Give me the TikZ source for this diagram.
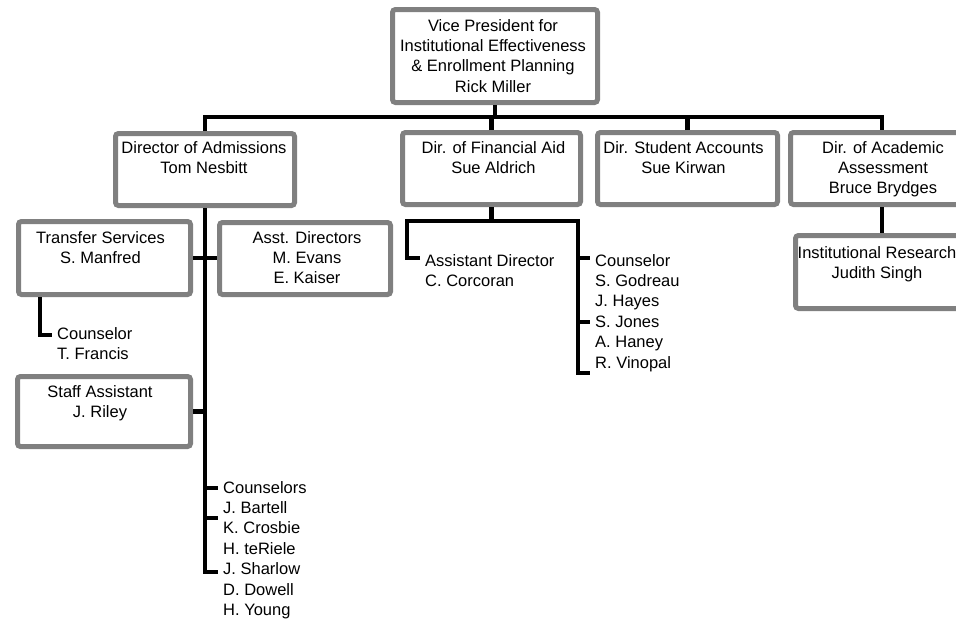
\documentclass[tikz,border=0pt]{standalone}
\usepackage{fontspec}
\setmainfont{Liberation Sans}
\definecolor{boxgray}{HTML}{808080}
\begin{document}
\begin{tikzpicture}[x=1pt,y=-1pt,
  box/.style={draw=boxgray, line width=5pt, rounded corners=3pt, fill=white, inner sep=0pt},
  txt/.style={font=\fontsize{16.5}{20.4}\selectfont, inner sep=0pt, align=center, anchor=north},
  ltxt/.style={txt, align=left, anchor=north west},
  conn/.style={line width=4.5pt, black}]
\useasboundingbox (0,0) rectangle (956,621);
\clip (0,0) rectangle (956,621);
% boxes
\node[box, minimum width=205pt, minimum height=93pt] (vp) at (495,56) {};
\node[box, minimum width=179pt, minimum height=72pt] (adm) at (205,169.5) {};
\node[box, minimum width=178pt, minimum height=72pt] (fa) at (491.5,168.5) {};
\node[box, minimum width=180pt, minimum height=72pt] (sa) at (687.5,168.5) {};
\node[box, minimum width=183pt, minimum height=72pt] (aa) at (882,168.5) {};
\node[box, minimum width=172pt, minimum height=73pt] (tr) at (104.5,258) {};
\node[box, minimum width=171pt, minimum height=72pt] (ad) at (305,258.5) {};
\node[box, minimum width=173pt, minimum height=70pt] (st) at (104,411.5) {};
\node[box, minimum width=173pt, minimum height=73pt] (ir) at (882,272) {};
% texts
\node[txt] (vpt) at (493,16.7) {\strut Vice President for\\Institutional Effectiveness\\\& Enrollment Planning\\Rick Miller};
\node[txt] (admt) at (204,138.7) {\strut Director of Admissions\\Tom Nesbitt};
\node[txt] (fat) at (493.5,138.7) {\strut Dir. of Financial Aid\\Sue Aldrich};
\node[txt] (sat) at (683.5,138.7) {\strut Dir. Student Accounts\\Sue Kirwan};
\node[txt] (aat) at (883,138.7) {\strut Dir. of Academic\\Assessment\\Bruce Brydges};
\node[txt] (trt) at (100.5,228.7) {\strut Transfer Services\\S. Manfred};
\node[txt] (adt) at (307,228.7) {\strut Asst. Directors\\M. Evans\\E. Kaiser};
\node[txt] (stt) at (100,382.7) {\strut Staff Assistant\\J. Riley};
\node[txt] (irt) at (877,243.7) {\strut Institutional Research\\Judith Singh};
\node[ltxt] (tft) at (57,324.7) {\strut Counselor\\T. Francis};
\node[ltxt] (act) at (425,251.7) {\strut Assistant Director\\C. Corcoran};
\node[ltxt] (fct) at (595,251.7) {\strut Counselor\\S. Godreau\\J. Hayes\\S. Jones\\A. Haney\\R. Vinopal};
\node[ltxt] (cst) at (223,478.7) {\strut Counselors\\J. Bartell\\K. Crosbie\\H. teRiele\\J. Sharlow\\D. Dowell\\H. Young};
% coordinates
\coordinate (bus) at (0,117);
\coordinate (cl1) at (218,488);
\coordinate (cl2) at (218,518);
\coordinate (cl3) at (218,572);
\coordinate (tfx) at (40,0);
\coordinate (tf) at (52,335);
\coordinate (faL) at (407,221);
\coordinate (faR) at (578,221);
\coordinate (acT) at (420,258);
\coordinate (fcT1) at (590,258);
\coordinate (fcT2) at (590,322);
\coordinate (fcT3) at (590,373);
% connectors
\draw[conn] (vp.south) -- (vp.south |- bus);
\draw[conn] (adm.north) -- (adm.north |- bus) -- (aa.north |- bus) -- (aa.north);
\draw[conn] (fa.north) -- (fa.north |- bus);
\draw[conn] (sa.north) -- (sa.north |- bus);
\draw[conn] (aa.south) -- (ir.north);
\draw[conn] (adm.south) |- (cl3);
\draw[conn] (cl1 -| adm.south) -- (cl1);
\draw[conn] (cl2 -| adm.south) -- (cl2);
\draw[conn] (tr.east) -- (tr.east -| ad.west);
\draw[conn] (st.east) -- (st.east -| adm.south);
\draw[conn] (tr.south -| tfx) |- (tf);
\draw[conn] (fa.south) -- (fa.south |- faL);
\draw[conn] (acT) -| (faL) -- (faR) |- (fcT3);
\draw[conn] (fcT1 -| faR) -- (fcT1);
\draw[conn] (fcT2 -| faR) -- (fcT2);
\end{tikzpicture}
\end{document}
